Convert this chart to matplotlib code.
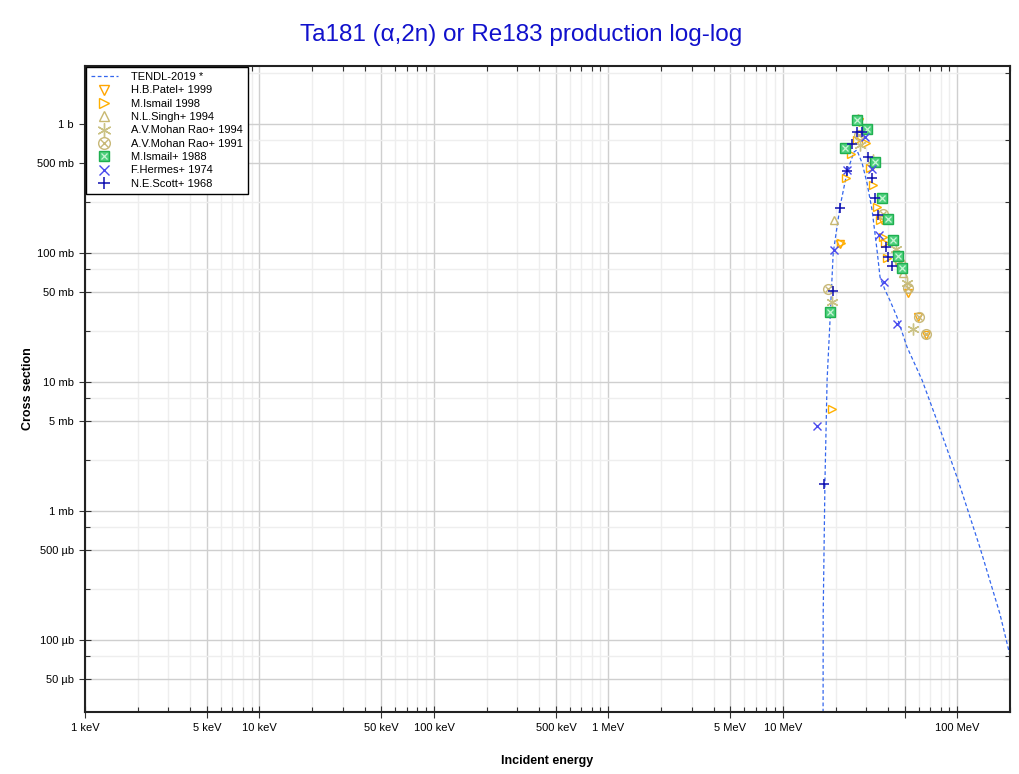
import matplotlib
matplotlib.use("Agg")
import matplotlib.pyplot as plt
import numpy as np
from matplotlib.ticker import FixedLocator, NullFormatter

plt.rcParams['font.family'] = ['Liberation Sans', 'DejaVu Sans']

# ---- data (energy in MeV, cross section in barn) ----
tendl_E = [16.9, 17.0, 17.4, 17.9, 18.6, 19.4, 21.2, 23.3, 25.5, 26.5, 28.4, 30.3,
           32.4, 34.6, 36.0, 38.4, 41.0, 45.0, 51.4, 62.6, 76.4, 100.7, 134.6, 175.0, 200.0]
tendl_xs = [1e-7, 1.6e-4, 1.7e-3, 0.0104, 0.03, 0.10, 0.227, 0.425, 0.607, 0.63, 0.50, 0.35,
            0.216, 0.105, 0.065, 0.052, 0.043, 0.032, 0.0187, 0.0104, 0.005, 1.74e-3,
            5.2e-4, 1.6e-4, 7.6e-5]

patel_E = [21.2, 27.4, 36.8, 45.8, 52.2, 59.6, 65.7]
patel_xs = [0.117, 1.04, 0.18, 0.083, 0.0487, 0.032, 0.0232]

ismail98_E = [19.2, 21.4, 23.0, 24.5, 26.7, 29.9, 31.5, 32.9, 34.7, 36.0, 37.3, 38.4, 39.6]
ismail98_xs = [0.00614, 0.12, 0.38, 0.585, 0.75, 0.71, 0.458, 0.337, 0.226, 0.18, 0.134, 0.12, 0.092]

singh_E = [19.7, 26.9, 48.5]
singh_xs = [0.18, 1.12, 0.0696]

mohan94_E = [19.2, 27.6, 32.9, 44.2, 51.2, 55.8]
mohan94_xs = [0.0415, 0.69, 0.526, 0.107, 0.0588, 0.0258]

mohan91_E = [18.0, 27.4, 37.3, 46.8, 52.2, 60.4, 65.7]
mohan91_xs = [0.0526, 0.822, 0.1995, 0.0832, 0.0533, 0.0321, 0.0234]

ismail88_E = [18.6, 22.75, 26.7, 30.2, 33.5, 36.8, 39.8, 42.9, 45.4, 48.3]
ismail88_xs = [0.0351, 0.648, 1.07, 0.909, 0.505, 0.265, 0.1845, 0.126, 0.0948, 0.076]

hermes_E = [15.6, 19.6, 23.2, 29.5, 32.2, 35.5, 37.9, 45.2]
hermes_xs = [0.00458, 0.1055, 0.44, 0.789, 0.448, 0.138, 0.0593, 0.028]

scott_E = [17.25, 19.4, 21.2, 23.2, 24.8, 26.4, 28.2, 30.8, 32.2, 33.65, 34.9, 38.7, 40.1, 41.9]
scott_xs = [0.00162, 0.0508, 0.224, 0.43, 0.70, 0.872, 0.872, 0.555, 0.384, 0.265, 0.197,
            0.112, 0.0936, 0.079]

x_major = [1e-3, 5e-3, 1e-2, 5e-2, 0.1, 0.5, 1, 5, 10, 50, 100]
x_major_labels = ['1 keV', '5 keV', '10 keV', '50 keV', '100 keV', '500 keV', '1 MeV',
                  '5 MeV', '10 MeV', '', '100 MeV']
y_major = [5e-5, 1e-4, 5e-4, 1e-3, 5e-3, 1e-2, 5e-2, 0.1, 0.5, 1]
y_major_labels = ['50 µb', '100 µb', '500 µb', '1 mb', '5 mb', '10 mb', '50 mb', '100 mb',
                  '500 mb', '1 b']

fig = plt.figure(figsize=(10.2, 7.74), dpi=100)
ax = fig.add_axes([85/1020, 1-712/774, (1010-85)/1020, (712-66)/774])
ax.set_xscale('log')
ax.set_yscale('log')
ax.set_xlim(1e-3, 200)
ax.set_ylim(2.77e-5, 2.82)

# grids
x_minor = [m * 10.0**d for d in range(-3, 3) for m in (2, 3, 4, 6, 7, 8, 9)]
x_minor = [v for v in x_minor if v <= 200]
y_minor = [m * 10.0**d for d in range(-5, 1) for m in (2.5, 7.5)]
ax.xaxis.set_major_locator(FixedLocator(x_major))
ax.set_xticklabels(x_major_labels)
ax.xaxis.set_minor_locator(FixedLocator(x_minor))
ax.xaxis.set_minor_formatter(NullFormatter())
ax.yaxis.set_major_locator(FixedLocator(y_major))
ax.set_yticklabels(y_major_labels)
ax.yaxis.set_minor_locator(FixedLocator(y_minor))
ax.yaxis.set_minor_formatter(NullFormatter())
ax.grid(True, which='major', color='#cfcfcf', linewidth=1.0)
ax.grid(True, which='minor', color='#eeeeee', linewidth=1.0)
ax.set_axisbelow(True)

ax.tick_params(which='major', direction='inout', length=8, width=0.8, labelsize=8,
               top=False, right=False, color='#333333', pad=4)
ax.tick_params(which='minor', direction='in', length=3.5, width=0.8, top=True, right=True,
               color='#333333')
for s in ax.spines.values():
    s.set_linewidth(1.5)
    s.set_color('#222222')

# inward major ticks on the right spine
sec = ax.secondary_yaxis('right')
sec.set_yscale('log')
sec.yaxis.set_major_locator(FixedLocator(y_major))
sec.yaxis.set_minor_locator(FixedLocator([]))
sec.tick_params(which='major', direction='in', length=5, width=0.8, labelright=False,
                color='#333333')
sec.spines['right'].set_visible(False)

h_t, = ax.plot(tendl_E, tendl_xs, linestyle=(0, (3, 2)), color='#3366ee', linewidth=0.9,
               label='TENDL-2019 *')

ms = 5.5
h_p, = ax.plot(patel_E, patel_xs, 'v', mfc='none', mec='#ffa500', ms=ms, mew=1.0, ls='none')
h_i98, = ax.plot(ismail98_E, ismail98_xs, '>', mfc='none', mec='#ffb000', ms=ms, mew=1.0, ls='none')
h_s, = ax.plot(singh_E, singh_xs, '^', mfc='none', mec='#c8b870', ms=ms, mew=1.0, ls='none')
h_m94, = ax.plot(mohan94_E, mohan94_xs, mfc='none', mec='#cbc285', ms=ms + 3, mew=1.0,
                 ls='none', marker=(6, 2, 0))
h_m91a, = ax.plot(mohan91_E, mohan91_xs, 'o', mfc='none', mec='#c8b878', ms=ms + 1.5, mew=1.0, ls='none')
h_m91b, = ax.plot(mohan91_E, mohan91_xs, 'x', color='#c8b878', ms=ms - 1, mew=1.0, ls='none')
h_i88a, = ax.plot(ismail88_E, ismail88_xs, 's', mfc='#4fd07e', mec='#1fb050', ms=ms + 1, mew=1.0, ls='none')
h_i88b, = ax.plot(ismail88_E, ismail88_xs, 'x', color='#c9f5d6', ms=ms - 1.5, mew=0.9, ls='none')
h_h, = ax.plot(hermes_E, hermes_xs, 'x', color='#4a4aee', ms=ms, mew=1.0, ls='none')
h_sc, = ax.plot(scott_E, scott_xs, '+', color='#1010b0', ms=ms + 2, mew=1.1, ls='none')

handles = [h_t, h_p, h_i98, h_s, h_m94, (h_m91a, h_m91b), (h_i88a, h_i88b), h_h, h_sc]
labels = ['TENDL-2019 *', 'H.B.Patel+ 1999', 'M.Ismail 1998', 'N.L.Singh+ 1994',
          'A.V.Mohan Rao+ 1994', 'A.V.Mohan Rao+ 1991', 'M.Ismail+ 1988',
          'F.Hermes+ 1974', 'N.E.Scott+ 1968']
leg = ax.legend(handles, labels, loc='upper left', fontsize=8, frameon=True,
                fancybox=False, edgecolor='black', framealpha=1, borderaxespad=0.1,
                handlelength=2.4, labelspacing=0.3, handletextpad=1.2, borderpad=0.45,
                markerscale=1.2)
leg.get_frame().set_linewidth(1.0)

fig.text(0.511, 1 - 35/774, 'Ta181 (α,2n) or Re183 production log-log', ha='center',
         va='center', fontsize=17.5, color='#1111cc')
ax.set_xlabel('Incident energy', fontsize=9, fontweight='bold', labelpad=16)
ax.set_ylabel('Cross section', fontsize=9, fontweight='bold', labelpad=2)

fig.savefig('out.png', dpi=100)
